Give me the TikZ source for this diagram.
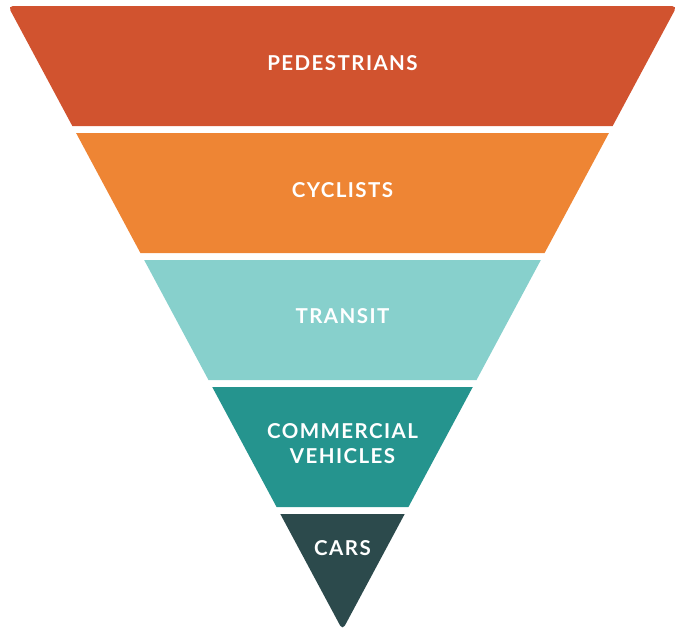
\documentclass[tikz,border=0pt]{standalone}
\usepackage{fontspec}
\setmainfont{Lato}
\newfontfamily\bandfont[LetterSpace=7]{Lato}
\definecolor{pedred}{HTML}{D1532F}
\definecolor{cycorange}{HTML}{EE8534}
\definecolor{transitteal}{HTML}{87D0CC}
\definecolor{commteal}{HTML}{25948E}
\definecolor{cargrey}{HTML}{2C4A4C}
\begin{document}
\begin{tikzpicture}[x=1pt,y=-1pt]
        \tikzset{
          bandlabel/.style={text=white,font=\bandfont\bfseries\fontsize{20.5}{25}\selectfont,align=center,inner sep=0pt},
        }
        \useasboundingbox (0,0) rectangle (679,629);
        %PEDESTRIANS (top band, rounded top corners)
        \pgfmathsetmacro\wp{0.53606*(630-126)}
        \fill[pedred] (342.5-\wp,126) [rounded corners=5pt] -- (8,6) -- (677,6) [sharp corners]
          -- (342.5+\wp,126) -- cycle;
        %middle bands
        \foreach \col/\ytop/\ybot in {cycorange/133/253, transitteal/260/380, commteal/387/507}{
          \pgfmathsetmacro\wt{0.53606*(630-\ytop)}
          \pgfmathsetmacro\wb{0.53606*(630-\ybot)}
          \fill[\col] (342.5-\wt,\ytop) -- (342.5+\wt,\ytop) -- (342.5+\wb,\ybot) -- (342.5-\wb,\ybot) -- cycle;
        }
        %CARS (tip)
        \pgfmathsetmacro\wc{0.53606*(630-514)}
        \fill[cargrey] (342.5,514) -- (342.5+\wc,514) [rounded corners=5pt] -- (342.5,630) [sharp corners] -- (342.5-\wc,514) -- cycle;
        %labels
        \node[bandlabel] (ped) at (342.5,63) {PEDESTRIANS};
        \node[bandlabel] (cyc) at (342.5,190) {CYCLISTS};
        \node[bandlabel] (tra) at (342.5,316) {TRANSIT};
        \node[bandlabel] (com) at (342.5,443.5) {COMMERCIAL\\VEHICLES};
        \node[bandlabel] (car) at (342.5,548) {CARS};
\end{tikzpicture}
\end{document}
